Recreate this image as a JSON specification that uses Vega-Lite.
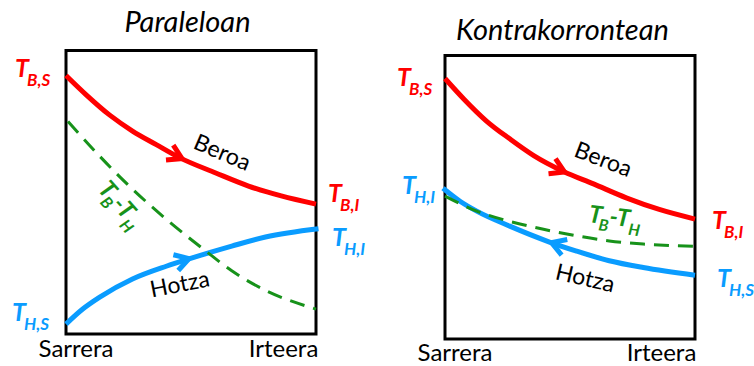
{
  "$schema": "https://vega.github.io/schema/vega-lite/v6.json",
  "background": "#ffffff",
  "padding": {"left": 12, "top": 9, "right": 0, "bottom": 0},
  "bounds": "flush",
  "spacing": 129,
  "config": {"view": {"stroke": null}, "text": {"font": "Lato"}},
  "datasets": {
    "kutxa": [{"x": 0, "x2": 1, "y": 0, "y2": 100}],
    "paraleloa_kurbak": [
      {"serie": "Beroa", "x": 0.0, "y": 91.2},
      {"serie": "Beroa", "x": 0.083, "y": 84.2},
      {"serie": "Beroa", "x": 0.175, "y": 77.2},
      {"serie": "Beroa", "x": 0.266, "y": 71.6},
      {"serie": "Beroa", "x": 0.361, "y": 66.8},
      {"serie": "Beroa", "x": 0.452, "y": 62.3},
      {"serie": "Beroa", "x": 0.599, "y": 56.8},
      {"serie": "Beroa", "x": 0.73, "y": 52.2},
      {"serie": "Beroa", "x": 0.861, "y": 48.7},
      {"serie": "Beroa", "x": 1.0, "y": 45.8},
      {"serie": "Hotza", "x": 0.0, "y": 3.5},
      {"serie": "Hotza", "x": 0.067, "y": 8.8},
      {"serie": "Hotza", "x": 0.135, "y": 13.0},
      {"serie": "Hotza", "x": 0.266, "y": 19.4},
      {"serie": "Hotza", "x": 0.401, "y": 23.9},
      {"serie": "Hotza", "x": 0.492, "y": 26.5},
      {"serie": "Hotza", "x": 0.663, "y": 31.0},
      {"serie": "Hotza", "x": 0.798, "y": 34.2},
      {"serie": "Hotza", "x": 1.01, "y": 37.1},
      {"serie": "TB-TH", "x": 0.008, "y": 75.0},
      {"serie": "TB-TH", "x": 0.135, "y": 62.7},
      {"serie": "TB-TH", "x": 0.266, "y": 51.1},
      {"serie": "TB-TH", "x": 0.401, "y": 40.5},
      {"serie": "TB-TH", "x": 0.56, "y": 29.2},
      {"serie": "TB-TH", "x": 0.663, "y": 22.3},
      {"serie": "TB-TH", "x": 0.798, "y": 15.4},
      {"serie": "TB-TH", "x": 1.0, "y": 8.8}
    ],
    "kontra_kurbak": [
      {"serie": "Beroa", "x": 0.0, "y": 91.9},
      {"serie": "Beroa", "x": 0.076, "y": 84.6},
      {"serie": "Beroa", "x": 0.167, "y": 76.8},
      {"serie": "Beroa", "x": 0.259, "y": 70.6},
      {"serie": "Beroa", "x": 0.355, "y": 64.7},
      {"serie": "Beroa", "x": 0.474, "y": 59.1},
      {"serie": "Beroa", "x": 0.594, "y": 54.7},
      {"serie": "Beroa", "x": 0.725, "y": 49.8},
      {"serie": "Beroa", "x": 0.857, "y": 45.7},
      {"serie": "Beroa", "x": 1.0, "y": 42.3},
      {"serie": "Hotza", "x": -0.008, "y": 53.2},
      {"serie": "Hotza", "x": 0.06, "y": 48.6},
      {"serie": "Hotza", "x": 0.127, "y": 45.1},
      {"serie": "Hotza", "x": 0.259, "y": 39.8},
      {"serie": "Hotza", "x": 0.418, "y": 34.2},
      {"serie": "Hotza", "x": 0.526, "y": 31.0},
      {"serie": "Hotza", "x": 0.657, "y": 27.6},
      {"serie": "Hotza", "x": 0.793, "y": 25.2},
      {"serie": "Hotza", "x": 1.0, "y": 22.5},
      {"serie": "TB-TH", "x": 0.0, "y": 50.4},
      {"serie": "TB-TH", "x": 0.127, "y": 45.1},
      {"serie": "TB-TH", "x": 0.259, "y": 41.5},
      {"serie": "TB-TH", "x": 0.394, "y": 38.7},
      {"serie": "TB-TH", "x": 0.526, "y": 36.4},
      {"serie": "TB-TH", "x": 0.657, "y": 34.6},
      {"serie": "TB-TH", "x": 0.793, "y": 33.5},
      {"serie": "TB-TH", "x": 1.0, "y": 32.7}
    ],
    "paraleloa_geziak": [
      {"serie": "Beroa", "x": 0.464, "y": 61.9},
      {"serie": "Hotza", "x": 0.492, "y": 26.6}
    ],
    "kontra_geziak": [
      {"serie": "Beroa", "x": 0.478, "y": 58.9},
      {"serie": "Hotza", "x": 0.426, "y": 34.0}
    ],
    "paraleloa_muturrak": [
      {"serie": "Beroa", "azpi": "B,S", "x": -0.204, "y": 90.7},
      {"serie": "Hotza", "azpi": "H,S", "x": -0.216, "y": 4.6},
      {"serie": "Beroa", "azpi": "B,I", "x": 1.048, "y": 46.6},
      {"serie": "Hotza", "azpi": "H,I", "x": 1.064, "y": 31.0}
    ],
    "kontra_muturrak": [
      {"serie": "Beroa", "azpi": "B,S", "x": -0.192, "y": 89.2},
      {"serie": "Hotza", "azpi": "H,I", "x": -0.172, "y": 51.1},
      {"serie": "Beroa", "azpi": "B,I", "x": 1.068, "y": 38.8},
      {"serie": "Hotza", "azpi": "H,S", "x": 1.088, "y": 18.3}
    ],
    "paraleloa_aldea": [{"serie": "TB-TH", "x": 0.124, "y": 50.8}],
    "kontra_aldea": [{"serie": "TB-TH", "x": 0.572, "y": 41.3}],
    "paraleloa_izenak": [
      {"testua": "Beroa", "x": 0.624, "y": 63.8},
      {"testua": "Hotza", "x": 0.456, "y": 17.3}
    ],
    "kontra_izenak": [
      {"testua": "Beroa", "x": 0.632, "y": 63.1},
      {"testua": "Hotza", "x": 0.56, "y": 21.2}
    ],
    "paraleloa_izenburua": [{"testua": "Paraleloan", "x": 0.486, "y": 109.7}],
    "kontra_izenburua": [{"testua": "Kontrakorrontean", "x": 0.47, "y": 108.6}],
    "paraleloa_ardatza": [
      {"testua": "Sarrera", "x": 0.04, "y": -8.1},
      {"testua": "Irteera", "x": 0.87, "y": -8.1}
    ],
    "kontra_ardatza": [
      {"testua": "Sarrera", "x": 0.04, "y": -7.6},
      {"testua": "Irteera", "x": 0.866, "y": -7.6}
    ]
  },
  "hconcat": [
    {
      "width": 250,
      "height": 289,
      "encoding": {
        "x": {"field": "x", "type": "quantitative", "scale": {"domain": [0, 1], "nice": false, "zero": false}, "axis": null},
        "y": {"field": "y", "type": "quantitative", "scale": {"domain": [-1.76, 100.18], "nice": false, "zero": false}, "axis": null}
      },
      "layer": [
        {"data": {"name": "kutxa"}, "mark": {"type": "rect", "filled": false, "stroke": "#000000", "strokeWidth": 3}, "encoding": {"x2": {"field": "x2"}, "y2": {"field": "y2"}}},
        {"data": {"name": "paraleloa_kurbak"}, "transform": [{"filter": "datum.serie != 'TB-TH'"}], "mark": {"type": "line", "interpolate": "monotone", "strokeWidth": 5}, "encoding": {"color": {"field": "serie", "type": "nominal", "scale": {"domain": ["Beroa", "Hotza", "TB-TH"], "range": ["#ff0000", "#0a9cff", "#17921a"]}, "legend": null}}},
        {"data": {"name": "paraleloa_kurbak"}, "transform": [{"filter": "datum.serie == 'TB-TH'"}], "mark": {"type": "line", "interpolate": "monotone", "strokeWidth": 3, "strokeDash": [15, 9]}, "encoding": {"color": {"field": "serie", "type": "nominal", "legend": null}}},
        {"data": {"name": "paraleloa_geziak"}, "transform": [{"filter": "datum.serie == 'Beroa'"}], "mark": {"type": "point", "shape": "M-1,-0.6L0,0L-1,0.6", "filled": false, "size": 760, "strokeWidth": 5, "opacity": 1, "angle": 26}, "encoding": {"color": {"field": "serie", "type": "nominal", "legend": null}}},
        {"data": {"name": "paraleloa_geziak"}, "transform": [{"filter": "datum.serie == 'Hotza'"}], "mark": {"type": "point", "shape": "M-1,-0.6L0,0L-1,0.6", "filled": false, "size": 760, "strokeWidth": 5, "opacity": 1, "angle": -17}, "encoding": {"color": {"field": "serie", "type": "nominal", "legend": null}}},
        {"data": {"name": "paraleloa_izenak"}, "transform": [{"filter": "datum.testua == 'Beroa'"}], "mark": {"type": "text", "fontSize": 23, "angle": 23, "align": "center", "baseline": "middle", "color": "#000000"}, "encoding": {"text": {"field": "testua"}}},
        {"data": {"name": "paraleloa_izenak"}, "transform": [{"filter": "datum.testua == 'Hotza'"}], "mark": {"type": "text", "fontSize": 23, "angle": -11, "align": "center", "baseline": "middle", "color": "#000000"}, "encoding": {"text": {"field": "testua"}}},
        {"data": {"name": "paraleloa_muturrak"}, "mark": {"type": "text", "fontSize": 25, "fontStyle": "italic", "fontWeight": "bold", "align": "left", "baseline": "alphabetic"}, "encoding": {"text": {"value": "T"}, "color": {"field": "serie", "type": "nominal", "legend": null}}},
        {"data": {"name": "paraleloa_muturrak"}, "mark": {"type": "text", "fontSize": 17, "fontStyle": "italic", "fontWeight": "bold", "align": "left", "baseline": "alphabetic", "dx": 12, "dy": 9}, "encoding": {"text": {"field": "azpi"}, "color": {"field": "serie", "type": "nominal", "legend": null}}},
        {"data": {"name": "paraleloa_aldea"}, "mark": {"type": "text", "fontSize": 24, "fontStyle": "italic", "fontWeight": "bold", "align": "left", "baseline": "alphabetic", "angle": 48}, "encoding": {"text": {"value": "T"}, "color": {"field": "serie", "type": "nominal", "legend": null}}},
        {"data": {"name": "paraleloa_aldea"}, "mark": {"type": "text", "fontSize": 16, "fontStyle": "italic", "fontWeight": "bold", "align": "left", "baseline": "alphabetic", "angle": 48, "dx": 11, "dy": 7}, "encoding": {"text": {"value": "B"}, "color": {"field": "serie", "type": "nominal", "legend": null}}},
        {"data": {"name": "paraleloa_aldea"}, "mark": {"type": "text", "fontSize": 24, "fontStyle": "italic", "fontWeight": "bold", "align": "left", "baseline": "alphabetic", "angle": 48, "dx": 21}, "encoding": {"text": {"value": "-T"}, "color": {"field": "serie", "type": "nominal", "legend": null}}},
        {"data": {"name": "paraleloa_aldea"}, "mark": {"type": "text", "fontSize": 16, "fontStyle": "italic", "fontWeight": "bold", "align": "left", "baseline": "alphabetic", "angle": 48, "dx": 41, "dy": 8}, "encoding": {"text": {"value": "H"}, "color": {"field": "serie", "type": "nominal", "legend": null}}},
        {"data": {"name": "paraleloa_izenburua"}, "mark": {"type": "text", "fontSize": 29, "fontStyle": "italic", "align": "center", "baseline": "middle", "color": "#000000"}, "encoding": {"text": {"field": "testua"}}},
        {"data": {"name": "paraleloa_ardatza"}, "mark": {"type": "text", "fontSize": 24, "align": "center", "baseline": "alphabetic", "color": "#000000"}, "encoding": {"text": {"field": "testua"}}}
      ]
    },
    {
      "width": 250,
      "height": 289,
      "encoding": {
        "x": {"field": "x", "type": "quantitative", "scale": {"domain": [0, 1], "nice": false, "zero": false}, "axis": null},
        "y": {"field": "y", "type": "quantitative", "scale": {"domain": [0, 101.94], "nice": false, "zero": false}, "axis": null}
      },
      "layer": [
        {"data": {"name": "kutxa"}, "mark": {"type": "rect", "filled": false, "stroke": "#000000", "strokeWidth": 3}, "encoding": {"x2": {"field": "x2"}, "y2": {"field": "y2"}}},
        {"data": {"name": "kontra_kurbak"}, "transform": [{"filter": "datum.serie != 'TB-TH'"}], "mark": {"type": "line", "interpolate": "monotone", "strokeWidth": 5}, "encoding": {"color": {"field": "serie", "type": "nominal", "scale": {"domain": ["Beroa", "Hotza", "TB-TH"], "range": ["#ff0000", "#0a9cff", "#17921a"]}, "legend": null}}},
        {"data": {"name": "kontra_kurbak"}, "transform": [{"filter": "datum.serie == 'TB-TH'"}], "mark": {"type": "line", "interpolate": "monotone", "strokeWidth": 3, "strokeDash": [15, 9]}, "encoding": {"color": {"field": "serie", "type": "nominal", "legend": null}}},
        {"data": {"name": "kontra_geziak"}, "transform": [{"filter": "datum.serie == 'Beroa'"}], "mark": {"type": "point", "shape": "M-1,-0.6L0,0L-1,0.6", "filled": false, "size": 760, "strokeWidth": 5, "opacity": 1, "angle": 25}, "encoding": {"color": {"field": "serie", "type": "nominal", "legend": null}}},
        {"data": {"name": "kontra_geziak"}, "transform": [{"filter": "datum.serie == 'Hotza'"}], "mark": {"type": "point", "shape": "M-1,-0.6L0,0L-1,0.6", "filled": false, "size": 760, "strokeWidth": 5, "opacity": 1, "angle": 200}, "encoding": {"color": {"field": "serie", "type": "nominal", "legend": null}}},
        {"data": {"name": "kontra_izenak"}, "transform": [{"filter": "datum.testua == 'Beroa'"}], "mark": {"type": "text", "fontSize": 23, "angle": 21, "align": "center", "baseline": "middle", "color": "#000000"}, "encoding": {"text": {"field": "testua"}}},
        {"data": {"name": "kontra_izenak"}, "transform": [{"filter": "datum.testua == 'Hotza'"}], "mark": {"type": "text", "fontSize": 23, "angle": 13, "align": "center", "baseline": "middle", "color": "#000000"}, "encoding": {"text": {"field": "testua"}}},
        {"data": {"name": "kontra_muturrak"}, "mark": {"type": "text", "fontSize": 25, "fontStyle": "italic", "fontWeight": "bold", "align": "left", "baseline": "alphabetic"}, "encoding": {"text": {"value": "T"}, "color": {"field": "serie", "type": "nominal", "legend": null}}},
        {"data": {"name": "kontra_muturrak"}, "mark": {"type": "text", "fontSize": 17, "fontStyle": "italic", "fontWeight": "bold", "align": "left", "baseline": "alphabetic", "dx": 12, "dy": 9}, "encoding": {"text": {"field": "azpi"}, "color": {"field": "serie", "type": "nominal", "legend": null}}},
        {"data": {"name": "kontra_aldea"}, "mark": {"type": "text", "fontSize": 24, "fontStyle": "italic", "fontWeight": "bold", "align": "left", "baseline": "alphabetic", "angle": 7}, "encoding": {"text": {"value": "T"}, "color": {"field": "serie", "type": "nominal", "legend": null}}},
        {"data": {"name": "kontra_aldea"}, "mark": {"type": "text", "fontSize": 16, "fontStyle": "italic", "fontWeight": "bold", "align": "left", "baseline": "alphabetic", "angle": 7, "dx": 11, "dy": 7}, "encoding": {"text": {"value": "B"}, "color": {"field": "serie", "type": "nominal", "legend": null}}},
        {"data": {"name": "kontra_aldea"}, "mark": {"type": "text", "fontSize": 24, "fontStyle": "italic", "fontWeight": "bold", "align": "left", "baseline": "alphabetic", "angle": 7, "dx": 21}, "encoding": {"text": {"value": "-T"}, "color": {"field": "serie", "type": "nominal", "legend": null}}},
        {"data": {"name": "kontra_aldea"}, "mark": {"type": "text", "fontSize": 16, "fontStyle": "italic", "fontWeight": "bold", "align": "left", "baseline": "alphabetic", "angle": 7, "dx": 41, "dy": 8}, "encoding": {"text": {"value": "H"}, "color": {"field": "serie", "type": "nominal", "legend": null}}},
        {"data": {"name": "kontra_izenburua"}, "mark": {"type": "text", "fontSize": 29, "fontStyle": "italic", "align": "center", "baseline": "middle", "color": "#000000"}, "encoding": {"text": {"field": "testua"}}},
        {"data": {"name": "kontra_ardatza"}, "mark": {"type": "text", "fontSize": 24, "align": "center", "baseline": "alphabetic", "color": "#000000"}, "encoding": {"text": {"field": "testua"}}}
      ]
    }
  ]
}
